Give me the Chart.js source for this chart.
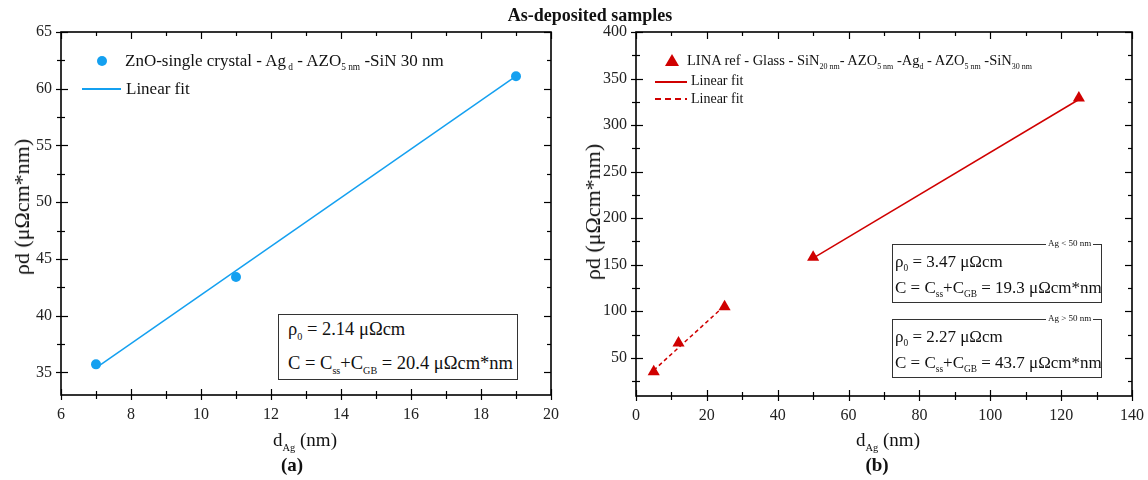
<!DOCTYPE html>
<html>
<head>
<meta charset="utf-8">
<script src="https://cdn.jsdelivr.net/npm/chart.js@4.4.1/dist/chart.umd.min.js"></script>
<style>
  html, body { margin:0; padding:0; background:#fff; }
  #wrap { position:relative; width:1148px; height:480px; overflow:hidden; font-family:"Liberation Serif", "Times New Roman", serif; color:#111; }
  canvas { position:absolute; top:0; }
  .t { position:absolute; white-space:nowrap; line-height:1; }
  sub { font-size:0.55em; vertical-align:-0.45em; line-height:0; }
  .box { position:absolute; border:1px solid #333; background:#fff; box-sizing:border-box; }
  .tag { position:absolute; font-size:9px; background:#fff; padding:0 2px; white-space:nowrap; line-height:1; }
  .rot { position:absolute; transform:translate(-50%,-50%) rotate(-90deg); white-space:nowrap; line-height:1; }
  .ln { position:absolute; height:1.5px; }
</style>
</head>
<body>
<div id="wrap">
  <canvas id="ca" width="574" height="480" style="left:0"></canvas>
  <canvas id="cb" width="574" height="480" style="left:574px"></canvas>

  <div class="t" style="left:590px;top:6px;transform:translateX(-50%);font-weight:bold;font-size:18px;">As-deposited samples</div>

  <!-- legend (a) -->
  <div style="position:absolute;left:97px;top:56px;width:10px;height:10px;border-radius:50%;background:#14a0f0;"></div>
  <div class="t" style="left:125px;top:52px;font-size:17px;">ZnO-single crystal - Ag<sub>&nbsp;d</sub> - AZO<sub>5 nm</sub> -SiN 30 nm</div>
  <div class="ln" style="left:82px;top:88px;width:39px;background:#14a0f0;"></div>
  <div class="t" style="left:126px;top:80px;font-size:17px;">Linear fit</div>

  <!-- legend (b) -->
  <div style="position:absolute;left:665px;top:54px;width:0;height:0;border-left:7px solid transparent;border-right:7px solid transparent;border-bottom:12px solid #d00000;"></div>
  <div class="t" style="left:687px;top:53px;font-size:14.5px;">LINA ref - Glass - SiN<sub>20 nm</sub>- AZO<sub>5 nm</sub> -Ag<sub>d</sub> - AZO<sub>5 nm</sub> -SiN<sub>30 nm</sub></div>
  <div class="ln" style="left:655px;top:81px;width:32px;background:#d00000;"></div>
  <div class="t" style="left:691px;top:74px;font-size:14px;">Linear fit</div>
  <div class="ln" style="left:655px;top:98px;width:32px;background:repeating-linear-gradient(90deg,#d00000 0 6px,transparent 6px 10px);"></div>
  <div class="t" style="left:691px;top:92px;font-size:14px;">Linear fit</div>

  <!-- axis titles -->
  <div class="rot" style="left:22px;top:207px;font-size:22px;">ρd (μΩcm*nm)</div>
  <div class="rot" style="left:593px;top:212px;font-size:22px;">ρd (μΩcm*nm)</div>
  <div class="t" style="left:305px;top:430px;transform:translateX(-50%);font-size:19px;">d<sub>Ag</sub> (nm)</div>
  <div class="t" style="left:888px;top:430px;transform:translateX(-50%);font-size:19px;">d<sub>Ag</sub> (nm)</div>
  <div class="t" style="left:292px;top:455px;transform:translateX(-50%);font-size:19px;font-weight:bold;">(a)</div>
  <div class="t" style="left:877px;top:455px;transform:translateX(-50%);font-size:19px;font-weight:bold;">(b)</div>

  <!-- annotation boxes -->
  <div class="box" style="left:278px;top:314px;width:240px;height:66px;">
    <div class="t" style="left:9px;top:5px;font-size:18.5px;">ρ<sub>0</sub> = 2.14 μΩcm</div>
    <div class="t" style="left:9px;top:39px;font-size:18.5px;">C = C<sub>ss</sub>+C<sub>GB</sub> = 20.4 μΩcm*nm</div>
  </div>
  <div class="box" style="left:892px;top:244px;width:210px;height:59px;">
    <div class="t" style="left:2px;top:8px;font-size:17px;">ρ<sub>0</sub> = 3.47 μΩcm</div>
    <div class="t" style="left:2px;top:34px;font-size:17px;">C = C<sub>ss</sub>+C<sub>GB</sub> = 19.3 μΩcm*nm</div>
  </div>
  <div class="tag" style="left:1046px;top:239px;">Ag &lt; 50 nm</div>
  <div class="box" style="left:892px;top:319px;width:210px;height:59px;">
    <div class="t" style="left:2px;top:8px;font-size:17px;">ρ<sub>0</sub> = 2.27 μΩcm</div>
    <div class="t" style="left:2px;top:34px;font-size:17px;">C = C<sub>ss</sub>+C<sub>GB</sub> = 43.7 μΩcm*nm</div>
  </div>
  <div class="tag" style="left:1046px;top:314px;">Ag &gt; 50 nm</div>
</div>

<script>
// ---------- data (a) ----------
const aThickness = [7, 11, 19];
const aRhoD      = [35.7, 43.4, 61.1];
const aFitX      = [7, 19];
const aFitY      = [35.4, 61.1];
const aXTicks    = [6, 8, 10, 12, 14, 16, 18, 20];
const aYTicks    = [35, 40, 45, 50, 55, 60, 65];

// ---------- data (b) ----------
const bThickness = [5, 12, 25, 50, 125];
const bRhoD      = [35, 66, 105, 158, 329];
const bFitLowX   = [5, 25];
const bFitLowY   = [36.6, 106];
const bFitHighX  = [50, 125];
const bFitHighY  = [157.2, 327.5];
const bXTicks    = [0, 20, 40, 60, 80, 100, 120, 140];
const bYTicks    = [50, 100, 150, 200, 250, 300, 350, 400];

const pts = (xs, ys) => xs.map((x, i) => ({x, y: ys[i]}));
const BLUE = '#14a0f0', RED = '#d00000';
const FONT = {family: '"Liberation Serif", "Times New Roman", serif', size: 16};

const framePlugin = {
  id: 'frameTicks',
  afterDraw(chart, args, o) {
    const {ctx, chartArea: a, scales: {x, y}} = chart;
    ctx.save();
    ctx.strokeStyle = '#000';
    const ln = (x1, y1, x2, y2) => { ctx.beginPath(); ctx.moveTo(x1, y1); ctx.lineTo(x2, y2); ctx.stroke(); };
    ctx.lineWidth = 1.2;
    const isMajor = (v, M) => Math.abs(v / M - Math.round(v / M)) < 1e-6;
    for (let v = Math.ceil(x.min / o.xMinor) * o.xMinor; v <= x.max + 1e-9; v += o.xMinor) {
      const px = Math.round(x.getPixelForValue(v)) + 0.5;
      const M = isMajor(v, o.xMajor);
      ln(px, a.bottom + (M ? 5 : 4), px, a.bottom - (M ? 6 : 4));
      ln(px, a.top, px, a.top + (M ? 7 : 4));
    }
    for (let v = Math.ceil(y.min / o.yMinor) * o.yMinor; v <= y.max + 1e-9; v += o.yMinor) {
      const py = Math.round(y.getPixelForValue(v)) + 0.5;
      const M = isMajor(v, o.yMajor);
      ln(a.left - (M ? 5 : 4), py, a.left + (M ? 7 : 4), py);
      ln(a.right, py, a.right - (M ? 7 : 4), py);
    }
    ctx.lineWidth = 1.6;
    ctx.strokeRect(a.left, a.top, a.right - a.left, a.bottom - a.top);
    ctx.restore();
  }
};

function makeOptions(xMin, xMax, yMin, yMax, xT, yT, yWidth, rightPad, xHeight, tickOpts) {
  return {
    responsive: false,
    animation: false,
    events: [],
    layout: {padding: {top: 32, right: rightPad, left: 0, bottom: 0}, autoPadding: false},
    plugins: {legend: {display: false}, tooltip: {enabled: false}, frameTicks: tickOpts},
    scales: {
      x: {
        type: 'linear', min: xMin, max: xMax,
        grid: {display: false, drawTicks: false},
        border: {display: false},
        afterBuildTicks: s => { s.ticks = xT.map(v => ({value: v})); },
        afterFit: s => { s.height = xHeight; s.paddingLeft = 0; s.paddingRight = 0; },
        ticks: {font: FONT, color: '#222', padding: 10, maxRotation: 0, autoSkip: false, callback: v => String(v)}
      },
      y: {
        type: 'linear', min: yMin, max: yMax,
        grid: {display: false, drawTicks: false},
        border: {display: false},
        afterBuildTicks: s => { s.ticks = yT.map(v => ({value: v})); },
        afterFit: s => { s.width = yWidth; s.paddingTop = 0; s.paddingBottom = 0; },
        ticks: {font: FONT, color: '#222', padding: 9, autoSkip: false, callback: v => String(v)}
      }
    }
  };
}

new Chart(document.getElementById('ca'), {
  type: 'scatter',
  data: {
    datasets: [
      {data: pts(aThickness, aRhoD), showLine: false, pointRadius: 5, pointBackgroundColor: BLUE, pointBorderColor: BLUE, borderWidth: 0},
      {data: pts(aFitX, aFitY), showLine: true, pointRadius: 0, borderColor: BLUE, borderWidth: 1.5}
    ]
  },
  options: makeOptions(6, 20, 33, 65, aXTicks, aYTicks, 61, 23, 85, {xMinor: 1, xMajor: 2, yMinor: 2.5, yMajor: 5}),
  plugins: [framePlugin]
});

new Chart(document.getElementById('cb'), {
  type: 'scatter',
  data: {
    datasets: [
      {data: pts(bThickness, bRhoD), showLine: false, pointStyle: 'triangle', pointRadius: 7, pointBackgroundColor: RED, pointBorderColor: RED, borderWidth: 0},
      {data: pts(bFitLowX, bFitLowY), showLine: true, pointRadius: 0, borderColor: RED, borderWidth: 1.5, borderDash: [4, 3]},
      {data: pts(bFitHighX, bFitHighY), showLine: true, pointRadius: 0, borderColor: RED, borderWidth: 1.5}
    ]
  },
  options: makeOptions(0, 140, 9, 400, bXTicks, bYTicks, 62, 16, 84, {xMinor: 10, xMajor: 20, yMinor: 25, yMajor: 50}),
  plugins: [framePlugin]
});
</script>
</body>
</html>
